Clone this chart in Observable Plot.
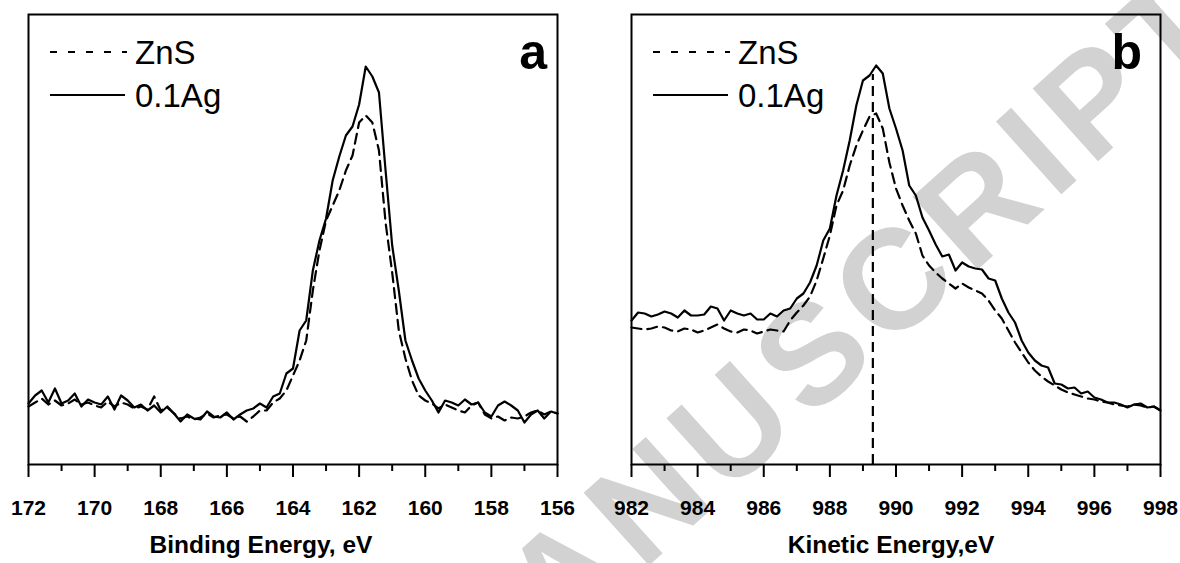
<!DOCTYPE html>
<html>
<head>
<meta charset="utf-8">
<script src="https://cdn.jsdelivr.net/npm/d3@7"></script>
<script src="https://cdn.jsdelivr.net/npm/@observablehq/plot@0.6"></script>
<style>
  html, body { margin: 0; padding: 0; background: #fff; }
  #wrap { position: relative; width: 1180px; height: 563px; overflow: hidden; font-family: Arial, "Liberation Sans", Helvetica, sans-serif; }
  .layer { position: absolute; top: 0; }
</style>
</head>
<body>
<div id="wrap"></div>
<script>
// ---------- Panel a : S 2p, Binding Energy (eV) ----------
const energyA = [
  172,171.8,171.6,171.4,171.2,171,170.8,170.6,170.4,170.2,
  170,169.8,169.6,169.4,169.2,169,168.8,168.6,168.4,168.2,
  168,167.8,167.6,167.4,167.2,167,166.8,166.6,166.4,166.2,
  166,165.8,165.6,165.4,165.2,165,164.8,164.6,164.4,164.2,
  164,163.8,163.6,163.4,163.2,163,162.8,162.6,162.4,162.2,
  162,161.8,161.6,161.4,161.2,161,160.8,160.6,160.4,160.2,
  160,159.8,159.6,159.4,159.2,159,158.8,158.6,158.4,158.2,
  158,157.8,157.6,157.4,157.2,157,156.8,156.6,156.4,156.2,
  156
];
const znsA = [
  58,62,66,60,64,59,61,65,60,62,
  59,57,63,58,62,60,56,58,55,68,
  54,57,51,46,48,45,47,51,47,49,
  50,46,48,43,48,54,54,62,66,74,
  89,104,124,174,214,244,259,274,294,309,
  342,349,342,314,242,192,134,106,84,69,
  64,61,56,60,57,54,52,59,62,50,
  46,48,44,47,46,48,52,54,50,53,
  51
];
const agA = [
  61,69,74,62,76,61,64,71,58,65,
  62,60,68,55,69,64,57,60,54,59,
  52,58,51,43,50,46,45,53,48,47,
  52,45,50,54,56,61,57,68,71,91,
  96,134,144,194,224,246,284,308,329,338,
  360,398,388,372,294,219,174,124,104,86,
  74,64,52,64,62,59,65,60,62,52,
  48,59,63,59,54,42,50,54,46,53,
  51
];
const majorTicksA = [172,170,168,166,164,162,160,158,156];
const minorTicksA = [171,169,167,165,163,161,159,157];
const titleA = "Binding Energy, eV";
const letterA = "a";

// ---------- Panel b : Zn LMM, Kinetic Energy (eV) ----------
const energyB = [
  982,982.2,982.4,982.6,982.8,983,983.2,983.4,983.6,983.8,
  984,984.2,984.4,984.6,984.8,985,985.2,985.4,985.6,985.8,
  986,986.2,986.4,986.6,986.8,987,987.2,987.4,987.6,987.8,
  988,988.2,988.4,988.6,988.8,989,989.2,989.4,989.6,989.8,
  990,990.2,990.4,990.6,990.8,991,991.2,991.4,991.6,991.8,
  992,992.2,992.4,992.6,992.8,993,993.2,993.4,993.6,993.8,
  994,994.2,994.4,994.6,994.8,995,995.2,995.4,995.6,995.8,
  996,996.2,996.4,996.6,996.8,997,997.2,997.4,997.6,997.8,
  998
];
const znsB = [
  137,136,135,136,138,137,134,133,136,135,
  132,134,137,140,136,133,132,135,134,131,
  133,135,134,133,144,152,159,168,184,206,
  229,259,274,299,319,334,348,351,336,302,
  276,259,244,231,209,199,192,186,181,176,
  181,177,174,171,164,154,146,134,122,112,
  102,94,88,83,79,75,72,70,68,66,
  65,63,62,60,59,58,60,59,57,58,
  54
];
const agB = [
  144,152,151,148,150,153,151,147,154,149,
  149,150,158,156,144,154,151,149,151,145,
  145,151,148,154,156,166,171,182,199,224,
  236,269,294,324,359,384,389,399,391,356,
  336,314,279,269,247,234,220,208,210,194,
  202,198,196,195,186,184,166,152,142,124,
  112,104,99,97,81,80,76,77,71,73,
  67,65,62,62,60,57,60,61,57,58,
  54
];
const peakEnergyB = [989.3];
const peakIntensityB = [390];
const majorTicksB = [982,984,986,988,990,992,994,996,998];
const minorTicksB = [983,985,987,989,991,993,995,997];
const titleB = "Kinetic Energy,eV";
const letterB = "b";

const seriesNames = ["ZnS", "0.1Ag"];
const watermark = "MANUSCRIPT";

const FONT = 'Arial, "Liberation Sans", Helvetica, sans-serif';

function panel(energy, zns, ag, domain, major, minor, title, titleDx, width, marginRight, extra) {
  const table = energy.map((e, i) => ({e, zns: zns[i], ag: ag[i]}));
  return Plot.plot({
    width, height: 563,
    marginLeft: 28, marginRight, marginTop: 14, marginBottom: 99,
    x: {domain, label: null},
    y: {domain: [0, 450], axis: null},
    style: {background: "transparent", fontFamily: FONT, color: "#000", overflow: "visible"},
    marks: [
      ...(extra || []),
      Plot.line(table, {x: "e", y: "zns", stroke: "#000", strokeWidth: 2.2, strokeDasharray: "10,6", strokeLinejoin: "round"}),
      Plot.line(table, {x: "e", y: "ag", stroke: "#000", strokeWidth: 2.2, strokeLinejoin: "round"}),
      Plot.axisX(major, {tickSize: 13, tickPadding: 23, fontSize: 21, fontWeight: "bold", strokeWidth: 2, label: null}),
      Plot.axisX(minor, {tickSize: 7, tickFormat: () => "", strokeWidth: 2, label: null}),
      Plot.frame({stroke: "#000", strokeWidth: 2}),
      Plot.text([title], {text: d => d, frameAnchor: "bottom", dx: titleDx, dy: 88, fontSize: 24.5, fontWeight: "bold", fill: "#000"})
    ]
  });
}

const wrap = document.getElementById("wrap");

// watermark (behind)
const ns = "http://www.w3.org/2000/svg";
const wm = document.createElementNS(ns, "svg");
wm.setAttribute("width", 1180); wm.setAttribute("height", 563);
wm.setAttribute("class", "layer"); wm.style.left = "0px";
const wt = document.createElementNS(ns, "text");
wt.setAttribute("transform", "translate(463,733) rotate(-42)");
wt.setAttribute("text-anchor", "start");
wt.setAttribute("font-family", FONT);
wt.setAttribute("font-weight", "bold");
wt.setAttribute("font-size", 142);
wt.setAttribute("letter-spacing", 10);
wt.setAttribute("fill", "#d2d2d2");
wt.textContent = watermark;
wm.appendChild(wt);
wrap.appendChild(wm);

const pa = panel(energyA, znsA, agA, [172, 156], majorTicksA, minorTicksA, titleA, -32, 603, 46);
pa.classList.add("layer"); pa.style.left = "0px";
wrap.appendChild(pa);

const peakRule = Plot.ruleX(peakEnergyB, {x: d => d, y1: 0, y2: () => peakIntensityB[0], stroke: "#000", strokeWidth: 2.2, strokeDasharray: "10,6"});
const pb = panel(energyB, znsB, agB, [982, 998], majorTicksB, minorTicksB, titleB, -5, 577, 20, [peakRule]);
pb.classList.add("layer"); pb.style.left = "603px";
wrap.appendChild(pb);

// legends and panel letters (overlay)
const ov = document.createElementNS(ns, "svg");
ov.setAttribute("width", 1180); ov.setAttribute("height", 563);
ov.setAttribute("class", "layer"); ov.style.left = "0px";
function addLegend(ox, letter, letterX) {
  const g = document.createElementNS(ns, "g");
  g.setAttribute("transform", `translate(${ox},0)`);
  const l1 = document.createElementNS(ns, "line");
  l1.setAttribute("x1", 50); l1.setAttribute("x2", 127); l1.setAttribute("y1", 52); l1.setAttribute("y2", 52);
  l1.setAttribute("stroke", "#000"); l1.setAttribute("stroke-width", 2); l1.setAttribute("stroke-dasharray", "7,11");
  g.appendChild(l1);
  const l2 = document.createElementNS(ns, "line");
  l2.setAttribute("x1", 50); l2.setAttribute("x2", 125); l2.setAttribute("y1", 95); l2.setAttribute("y2", 95);
  l2.setAttribute("stroke", "#000"); l2.setAttribute("stroke-width", 2);
  g.appendChild(l2);
  [[seriesNames[0], 64], [seriesNames[1], 107]].forEach(([t, y]) => {
    const tx = document.createElementNS(ns, "text");
    tx.setAttribute("x", 135); tx.setAttribute("y", y);
    tx.setAttribute("font-family", FONT); tx.setAttribute("font-size", 33);
    tx.textContent = t; g.appendChild(tx);
  });
  const lt = document.createElementNS(ns, "text");
  lt.setAttribute("x", letterX); lt.setAttribute("y", 69);
  lt.setAttribute("text-anchor", "end");
  lt.setAttribute("font-family", FONT); lt.setAttribute("font-weight", "bold"); lt.setAttribute("font-size", 50);
  lt.textContent = letter; g.appendChild(lt);
  ov.appendChild(g);
}
addLegend(0, letterA, 547);
addLegend(603, letterB, 539);
wrap.appendChild(ov);
</script>
</body>
</html>
